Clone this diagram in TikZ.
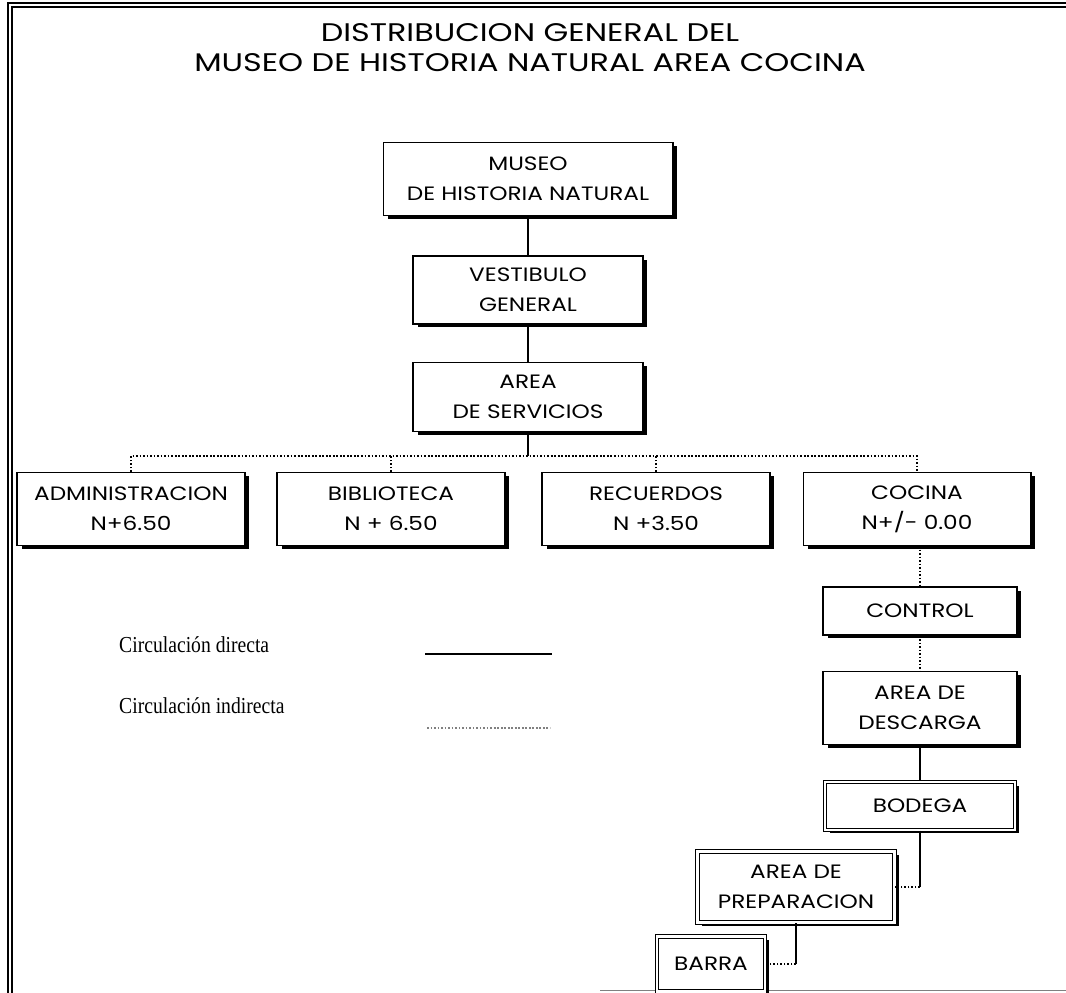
\documentclass[tikz,border=0pt]{standalone}
\usepackage{fontspec}
\usetikzlibrary{shadows}
\newfontfamily\titlefont[FakeStretch=1.25]{Poppins}
\newfontfamily\boxfont[FakeStretch=1.2]{Poppins}
\newfontfamily\legendfont[FakeStretch=0.86]{Liberation Serif}

\begin{document}
\begin{tikzpicture}[x=0.02cm, y=-0.02cm,
	area/.style={draw, line width=0.6pt, fill=white, align=center, inner sep=2pt,
		font=\boxfont\fontsize{11}{17}\selectfont,
		drop shadow={shadow xshift=0.09cm, shadow yshift=-0.07cm, fill=black, opacity=1}},
	areadbl/.style={area, double, double distance=1.2pt},
	directa/.style={line width=1pt},
	indirecta/.style={line width=0.9pt, dash pattern=on 1pt off 1pt},
	marco/.style={line width=0.8pt}]
				\useasboundingbox (0,0) rectangle (1066,993);
				
				\draw[marco] (8,993) -- (8,3) -- (1066,3);
				\draw[marco] (12,993) -- (12,7) -- (1066,7);
				\draw[gray, line width=0.5pt] (600,990) -- (1066,990);
				
				\node[font=\titlefont\fontsize{14.5}{17}\selectfont, align=center] (titulo) at (530,48) {DISTRIBUCION GENERAL DEL\\MUSEO DE HISTORIA NATURAL AREA COCINA};
				
				\node[area, minimum width=5.8cm, minimum height=1.46cm] (museo) at (528,179) {MUSEO\\DE HISTORIA NATURAL};
				\node[area, minimum width=4.6cm, minimum height=1.36cm] (vestibulo) at (528,290) {VESTIBULO\\GENERAL};
				\node[area, minimum width=4.6cm, minimum height=1.38cm] (servicios) at (528,397) {AREA\\DE SERVICIOS};
				
				\node[area, minimum width=4.56cm, minimum height=1.46cm] (admin) at (131,509) {ADMINISTRACION\\N+6.50};
				\node[area, minimum width=4.56cm, minimum height=1.46cm] (biblio) at (391,509) {BIBLIOTECA\\N + 6.50};
				\node[area, minimum width=4.56cm, minimum height=1.46cm] (recuerdos) at (656,509) {RECUERDOS\\N +3.50};
				\node[area, minimum width=4.56cm, minimum height=1.46cm] (cocina) at (917,509) {COCINA\\N+/- 0.00};
				
				\node[area, minimum width=3.88cm, minimum height=0.96cm] (control) at (920,611) {CONTROL};
				\node[area, minimum width=3.88cm, minimum height=1.46cm] (descarga) at (920,708) {AREA DE\\DESCARGA};
				\node[areadbl, minimum width=3.8cm, minimum height=0.96cm] (bodega) at (920,806) {BODEGA};
				\node[areadbl, minimum width=3.94cm, minimum height=1.42cm] (preparacion) at (796,887) {AREA DE\\PREPARACION};
				\node[areadbl, minimum width=2.16cm, minimum height=1.1cm] (barra) at (711,964) {BARRA};
				
				\coordinate (bus) at (528,456);
				\draw[directa] (museo) -- (vestibulo);
				\draw[directa] (vestibulo) -- (servicios);
				\draw[directa] (servicios) -- (bus);
				\draw[indirecta] (admin.north) -- (admin.north |- bus) -- (cocina.north |- bus) -- (cocina.north);
				\draw[indirecta] (biblio.north) -- (biblio.north |- bus);
				\draw[indirecta] (recuerdos.north) -- (recuerdos.north |- bus);
				
				\draw[indirecta] (control.north |- cocina.south) -- (control.north);
				\draw[indirecta] (control) -- (descarga);
				\draw[directa] (descarga) -- (bodega);
				\draw[directa] (bodega.south) -- (bodega.south |- preparacion.east);
				\draw[indirecta] (bodega.south |- preparacion.east) -- (preparacion.east);
				\draw[directa] (preparacion.south) -- (preparacion.south |- barra.east);
				\draw[indirecta] (preparacion.south |- barra.east) -- (barra.east);
				
				\node[anchor=base west, font=\legendfont\fontsize{13}{15}\selectfont] (directa) at (113,652) {Circulación directa};
				\node[anchor=base west, font=\legendfont\fontsize{13}{15}\selectfont] (indirecta) at (113,713) {Circulación indirecta};
				\coordinate (d1) at (425,654);
				\coordinate (d2) at (552,654);
				\coordinate (i1) at (427,728);
				\coordinate (i2) at (550,728);
				\draw[directa] (d1) -- (d2);
				\draw[indirecta, gray] (i1) -- (i2);
			\end{tikzpicture}
\end{document}
